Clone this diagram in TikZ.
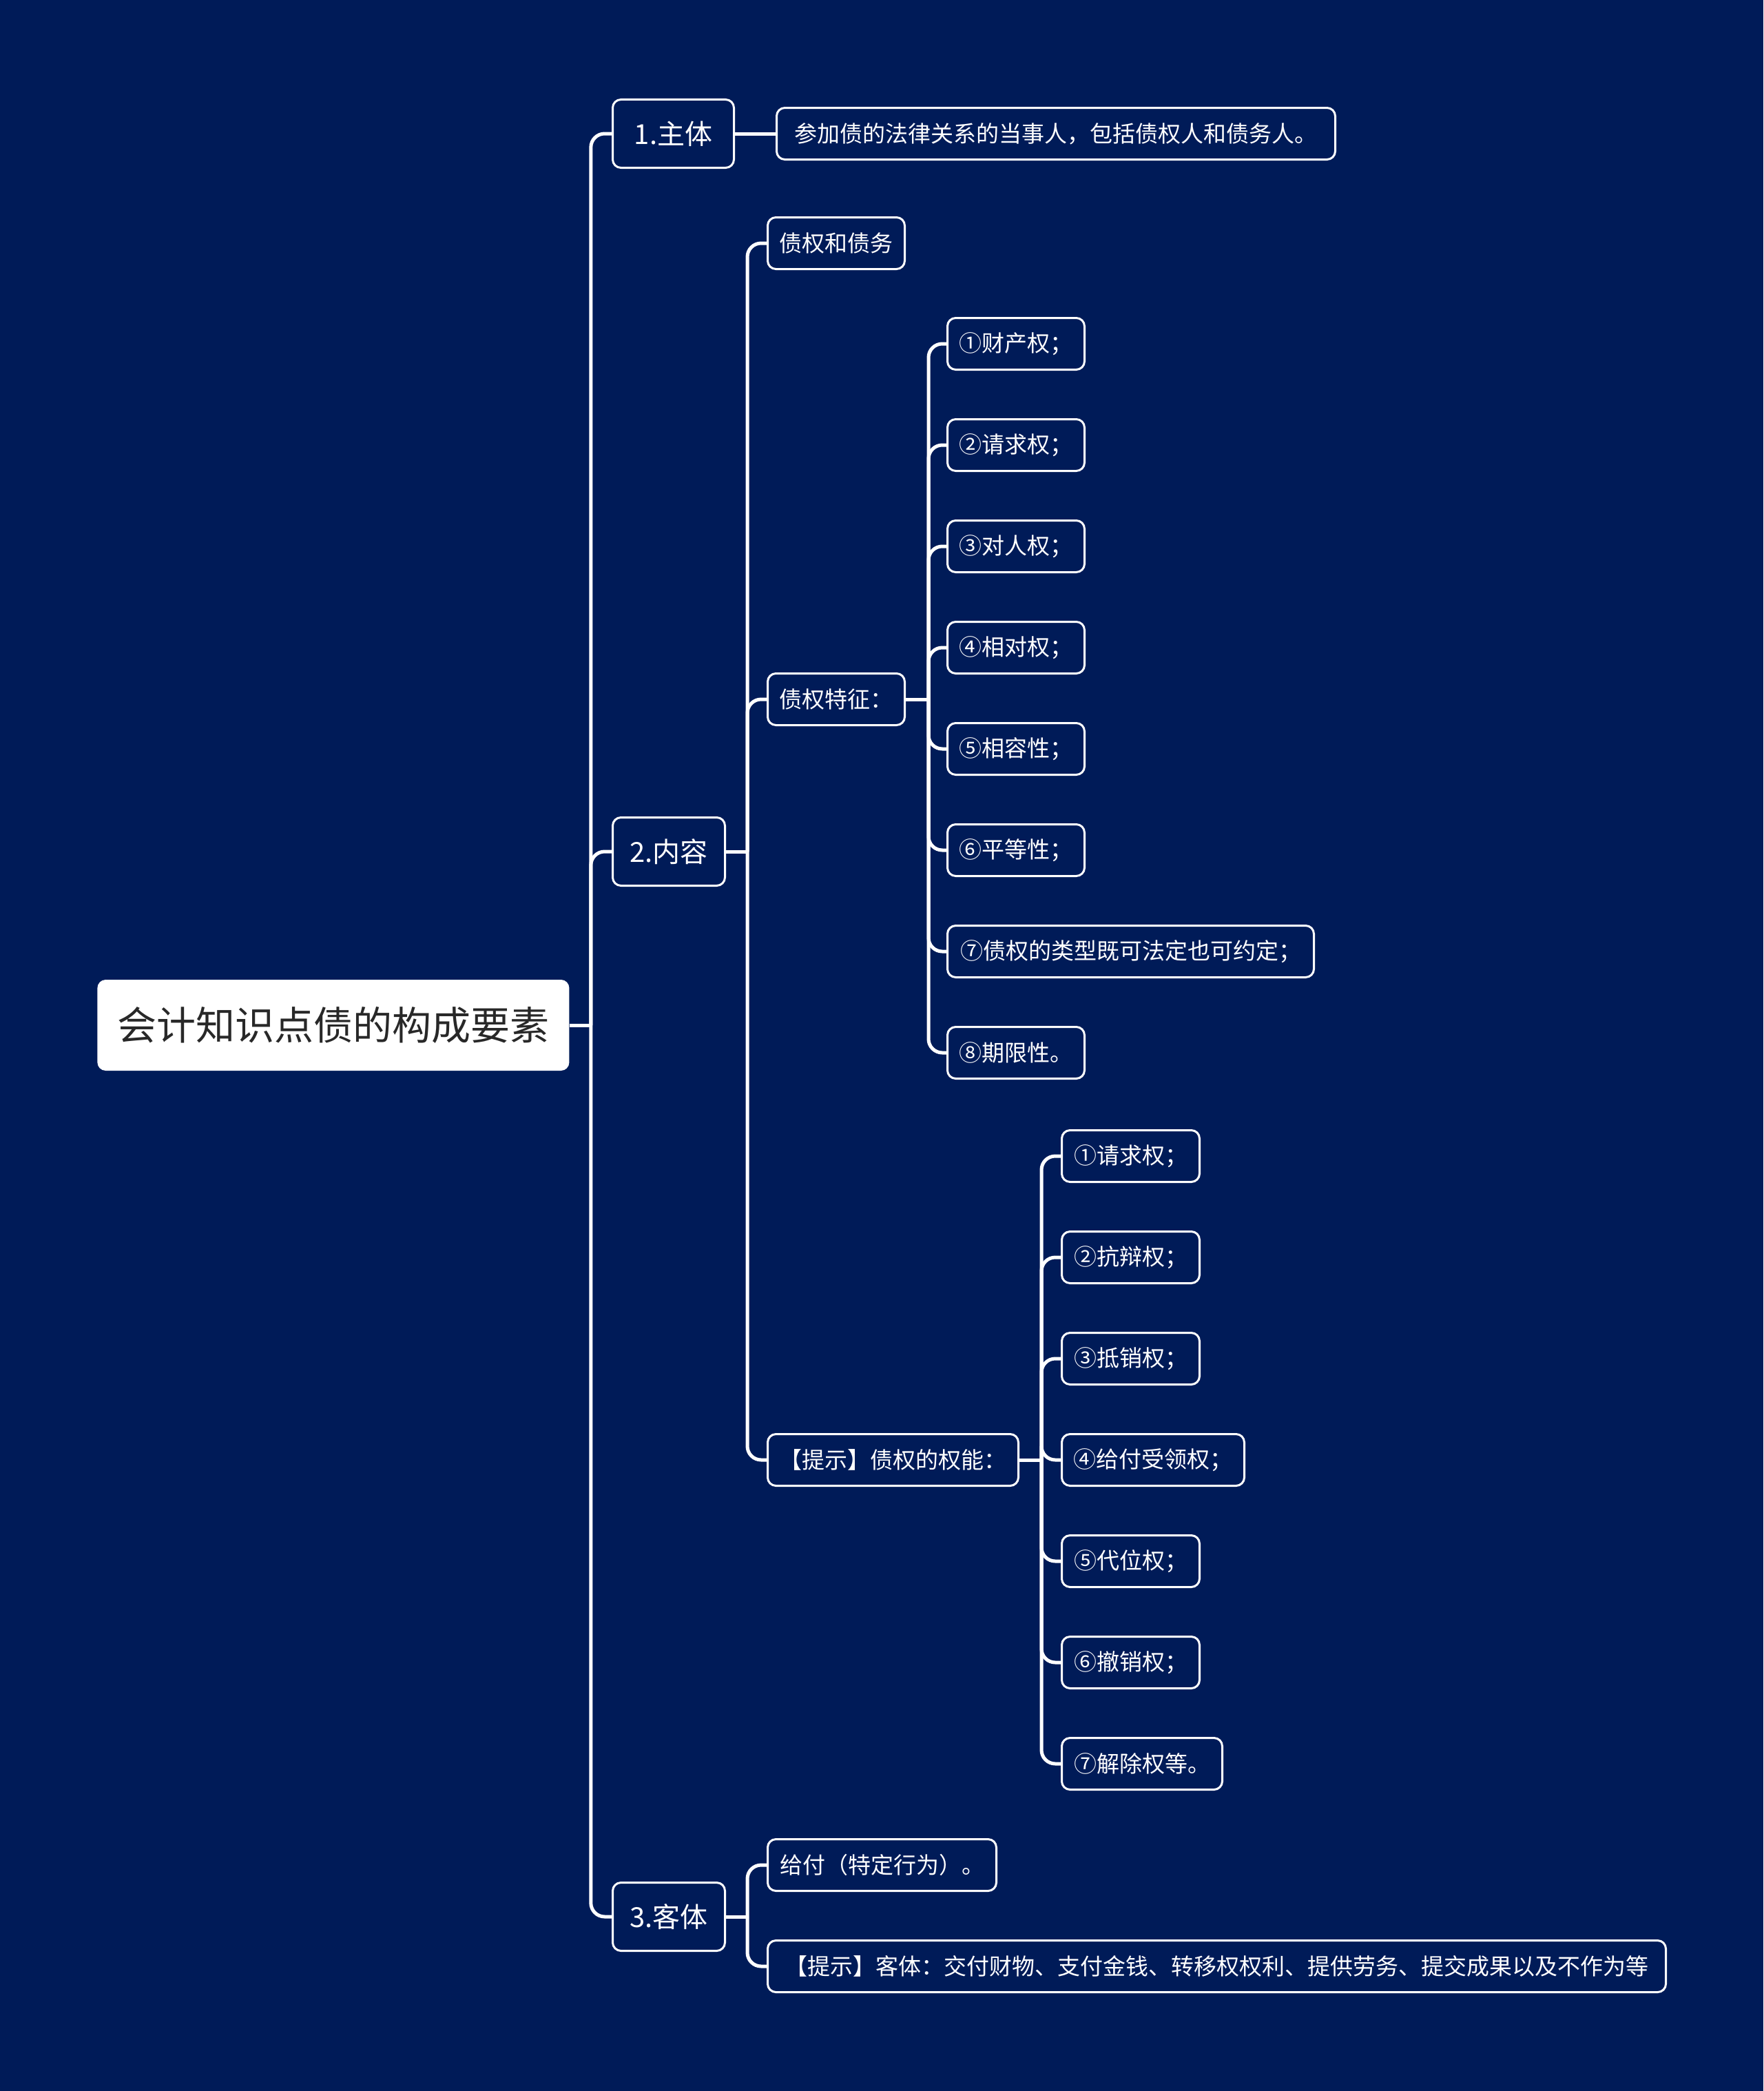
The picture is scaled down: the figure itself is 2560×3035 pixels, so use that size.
\documentclass[tikz,border=0pt]{standalone}
\usepackage{fontspec}
\newfontfamily\cjk{Noto Sans CJK SC}
\definecolor{bg}{RGB}{0,27,88}
\definecolor{roottext}{RGB}{40,40,40}
\begin{document}
\begin{tikzpicture}[x=0.5pt,y=-0.5pt,
 box/.style={draw=white, line width=1.5pt, fill=bg, rounded corners=6pt, text=white,
   font=\cjk\fontsize{16.5}{20}\selectfont, anchor=west, minimum height=37.5pt,
   inner xsep=6pt, inner ysep=0pt},
 lone/.style={box, font=\cjk\fontsize{20}{24}\selectfont, minimum height=49.5pt},
 rootbox/.style={fill=white, rounded corners=6pt, text=roottext,
   font=\cjk\fontsize{28.5}{34}\selectfont, anchor=west, minimum height=66pt,
   minimum width=342.5pt},
 link/.style={draw=white, line width=2.5pt, rounded corners=10pt},
]
\fill[bg] (0,0) rectangle (2560,3035);
\useasboundingbox (0,0) rectangle (2560,3035);

% root
\node[rootbox] (root) at (141,1488) {会计知识点债的构成要素};

% level 1
\node[lone, minimum width=88pt] (a) at (888,194) {1.主体};
\node[lone, minimum width=81.5pt] (b) at (888,1236) {2.内容};
\node[lone, minimum width=81.5pt] (c) at (888,2782) {3.客体};

% level 2
\node[box, minimum width=405.5pt] (a1) at (1126,194) {参加债的法律关系的当事人，包括债权人和债务人。};
\node[box, minimum width=99.5pt] (b1) at (1113,353) {债权和债务};
\node[box, minimum width=99.5pt] (b2) at (1113,1015) {债权特征：};
\node[box, minimum width=182pt] (b3) at (1113,2119) {【提示】债权的权能：};
\node[box, minimum width=166pt] (c1) at (1113,2707) {给付（特定行为）。};
\node[box, minimum width=652pt] (c2) at (1113,2854) {【提示】客体：交付财物、支付金钱、转移权权利、提供劳务、提交成果以及不作为等};

% level 3 under b2
\node[box, minimum width=99.5pt] (f1) at (1374,499) {①财产权；};
\node[box, minimum width=99.5pt] (f2) at (1374,646) {②请求权；};
\node[box, minimum width=99.5pt] (f3) at (1374,793) {③对人权；};
\node[box, minimum width=99.5pt] (f4) at (1374,940) {④相对权；};
\node[box, minimum width=99.5pt] (f5) at (1374,1087) {⑤相容性；};
\node[box, minimum width=99.5pt] (f6) at (1374,1234) {⑥平等性；};
\node[box, minimum width=266pt] (f7) at (1374,1381) {⑦债权的类型既可法定也可约定；};
\node[box, minimum width=99.5pt] (f8) at (1374,1528) {⑧期限性。};

% level 3 under b3
\node[box, minimum width=100pt] (g1) at (1540,1678) {①请求权；};
\node[box, minimum width=100pt] (g2) at (1540,1825) {②抗辩权；};
\node[box, minimum width=100pt] (g3) at (1540,1972) {③抵销权；};
\node[box, minimum width=132.5pt] (g4) at (1540,2119) {④给付受领权；};
\node[box, minimum width=100pt] (g5) at (1540,2266) {⑤代位权；};
\node[box, minimum width=100pt] (g6) at (1540,2413) {⑥撤销权；};
\node[box, minimum width=116.5pt] (g7) at (1540,2560) {⑦解除权等。};

% junction points
\coordinate (t0) at ([xshift=15.5pt]root.east);
\coordinate (tb) at ([xshift=15.5pt]b.east);
\coordinate (tc) at ([xshift=15.5pt]c.east);
\coordinate (tf) at ([xshift=16.5pt]b2.east);
\coordinate (tg) at ([xshift=16pt]b3.east);

% connectors
\draw[link] (root.east) -- (t0);
\foreach \n in {a,b,c} \draw[link] (t0) |- (\n.west);
\draw[link] (a.east) -- (a1.west);
\draw[link] (b.east) -- (tb);
\foreach \n in {b1,b2,b3} \draw[link] (tb) |- (\n.west);
\draw[link] (c.east) -- (tc);
\foreach \n in {c1,c2} \draw[link] (tc) |- (\n.west);
\draw[link] (b2.east) -- (tf);
\foreach \n in {f1,f2,f3,f4,f5,f6,f7,f8} \draw[link] (tf) |- (\n.west);
\draw[link] (b3.east) -- (tg);
\foreach \n in {g1,g2,g3,g4,g5,g6,g7} \draw[link] (tg) |- (\n.west);
\end{tikzpicture}
\end{document}
